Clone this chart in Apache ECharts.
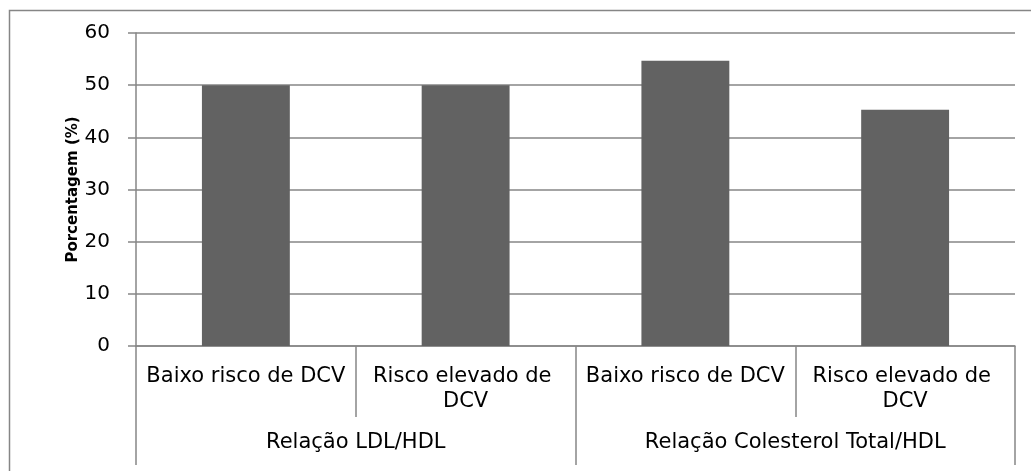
<!DOCTYPE html>
<html>

<head>
    <meta charset="utf-8">
    <script src="https://cdn.jsdelivr.net/npm/echarts@6/dist/echarts.min.js"></script>
</head>

<body style="margin:0">
    <div id="main" style="width: 1031px;height:471px;"></div>
    <script type="text/javascript">
        // dados
        var categorias = ['Baixo risco de DCV', 'Risco elevado de DCV', 'Baixo risco de DCV', 'Risco elevado de DCV'];
        var grupos = ['Relação LDL/HDL', 'Relação Colesterol Total/HDL'];
        var valores = [50, 50, 54.7, 45.3];

        var cinza = '#868686';
        var fonte = 'DejaVu Sans';

        var myChart = echarts.init(document.getElementById('main'));

        option = {
            animation: false,
            backgroundColor: '#fff',
            // moldura do gráfico (só aparecem as bordas de cima e esquerda)
            graphic: [{
                type: 'rect',
                left: 7, top: 8,
                shape: { width: 1100, height: 600 },
                style: { fill: null, stroke: cinza, lineWidth: 1.5 },
                silent: true
            }],
            grid: { left: 136, right: 16, top: 33, bottom: 125 },
            xAxis: [{
                type: 'category',
                data: categorias,
                axisLine: { lineStyle: { color: cinza, width: 1.5 } },
                axisTick: { show: true, alignWithLabel: false, length: 71, interval: 0, lineStyle: { color: cinza, width: 1.5 } },
                axisLabel: {
                    interval: 0, margin: 18, color: '#000',
                    fontFamily: fonte, fontSize: 21, lineHeight: 25,
                    width: 214, overflow: 'break'
                }
            }, {
                type: 'category',
                data: grupos,
                position: 'bottom',
                axisLine: { show: false },
                axisTick: { show: true, alignWithLabel: false, length: 119, interval: 0, lineStyle: { color: cinza, width: 1.5 } },
                axisLabel: {
                    interval: 0, margin: 86, color: '#000',
                    fontFamily: fonte, fontSize: 21
                }
            }],
            yAxis: {
                type: 'value',
                min: 0, max: 60, interval: 10,
                name: 'Porcentagem (%)',
                nameLocation: 'middle',
                nameGap: 55,
                nameMoveOverlap: false,
                nameTextStyle: { fontFamily: fonte, fontSize: 15, fontWeight: 'bold', color: '#000' },
                axisLine: { show: true, lineStyle: { color: cinza, width: 1.5 } },
                axisTick: { show: true, length: 8, lineStyle: { color: cinza, width: 1.5 } },
                splitLine: { lineStyle: { color: cinza, width: 1.5 } },
                axisLabel: { margin: 26, color: '#000', fontFamily: fonte, fontSize: 20 }
            },
            series: [{
                type: 'bar',
                data: valores,
                barWidth: '40%',
                itemStyle: { color: '#626262' }
            }]
        };
        myChart.setOption(option);
    </script>
</body>

</html>
